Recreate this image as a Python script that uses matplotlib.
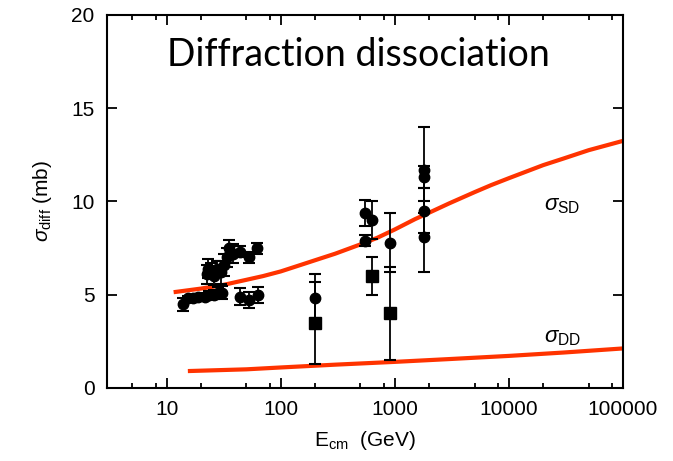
import matplotlib
matplotlib.use("Agg")
from matplotlib import pyplot as plt
from matplotlib.ticker import LogLocator, NullFormatter, FixedLocator

plt.rcParams['font.family'] = ['Liberation Sans', 'DejaVu Sans']
plt.rcParams['mathtext.fontset'] = 'custom'
plt.rcParams['mathtext.rm'] = 'Liberation Sans'
plt.rcParams['mathtext.it'] = 'Liberation Sans:italic'
plt.rcParams['mathtext.sf'] = 'Liberation Sans'

# single diffraction data (circles): energy, cross section, error
sd_e = [13.8, 15.5, 17.0, 19.0, 21.5, 23.5, 26.0, 28.0, 30.5, 44, 53, 63,
        22.5, 23.0, 24.5, 26.0, 27.5, 30.0, 32.0, 34.0, 35.5, 38.0, 44.0, 53.0, 62.0,
        200, 546, 546, 630, 900, 1800, 1800, 1800, 1800]
sd_sig = [4.5, 4.8, 4.85, 4.9, 4.9, 5.0, 5.0, 5.1, 5.1, 4.9, 4.7, 5.0,
          6.1, 6.4, 6.3, 6.0, 6.4, 6.2, 6.6, 7.0, 7.5, 7.2, 7.3, 7.0, 7.5,
          4.8, 9.4, 7.9, 9.0, 7.8, 11.7, 11.3, 9.5, 8.1]
sd_err = [0.35, 0.15, 0.15, 0.15, 0.2, 0.2, 0.25, 0.3, 0.35, 0.45, 0.42, 0.42,
          0.5, 0.5, 0.4, 0.5, 0.4, 0.6, 0.6, 0.5, 0.45, 0.5, 0.3, 0.3, 0.3,
          1.3, 0.7, 0.3, 1.0, 1.6, 2.3, 0.6, 1.2, 1.9]

# double diffraction data (squares)
dd_e = [200, 630, 900]
dd_sig = [3.5, 6.0, 4.0]
dd_err = [2.2, 1.0, 2.5]

# model curves
sd_curve_e = [12, 20, 30, 50, 70, 100, 150, 200, 300, 500, 700, 1000, 1500,
              2000, 3000, 5000, 7000, 10000, 20000, 30000, 50000, 100000]
sd_curve_sig = [5.15, 5.33, 5.5, 5.8, 6.0, 6.25, 6.6, 6.85, 7.2, 7.7, 8.05,
                8.5, 9.05, 9.4, 9.9, 10.5, 10.88, 11.25, 11.95, 12.3, 12.75, 13.25]
dd_curve_e = [16, 50, 100, 300, 1000, 3000, 10000, 30000, 100000]
dd_curve_sig = [0.91, 1.0, 1.1, 1.25, 1.4, 1.55, 1.72, 1.9, 2.12]

red = '#ff3300'

fig = plt.figure(figsize=(6.73, 4.61), dpi=100)
ax = fig.add_axes([0.159, 0.1584, 0.7667, 0.8091])

ax.plot(sd_curve_e, sd_curve_sig, color=red, lw=3, zorder=2, solid_joinstyle='round')
ax.plot(dd_curve_e, dd_curve_sig, color=red, lw=3, zorder=2, solid_joinstyle='round')

ax.errorbar(sd_e, sd_sig, yerr=sd_err, fmt='o', color='black', ms=7.5,
            capsize=4.5, elinewidth=1.3, capthick=1.5, zorder=3)
ax.errorbar(dd_e, dd_sig, yerr=dd_err, fmt='s', color='black', ms=8,
            capsize=4.5, elinewidth=1.3, capthick=1.5, zorder=3)

ax.set_xscale('log')
ax.set_xlim(3, 1e5)
ax.set_ylim(0, 20)
ax.set_yticks([0, 5, 10, 15, 20])
ax.xaxis.set_major_locator(FixedLocator([10, 100, 1000, 10000, 100000]))
ax.set_xticklabels(['10', '100', '1000', '10000', '100000'])
ax.xaxis.set_minor_locator(LogLocator(base=10, subs=(2, 5, 8)))
ax.xaxis.set_minor_formatter(NullFormatter())

ax.tick_params(which='both', direction='in', top=True, right=True,
               labelsize=15, width=1.3, pad=9)
ax.tick_params(which='major', length=7)
ax.tick_params(which='minor', length=3.5)
for s in ax.spines.values():
    s.set_linewidth(1.5)

ax.set_xlabel(r'E$_{\rm cm}$  (GeV)', fontsize=15, labelpad=7)
ax.set_ylabel(r'$\sigma_{\rm diff}$ (mb)', fontsize=15, labelpad=12)

ax.text(0.488, 17.85, 'Diffraction dissociation', transform=ax.get_yaxis_transform(),
        ha='center', va='center', fontsize=27, family='Lato')
ax.text(29500, 9.8, r'$\sigma_{\rm SD}$', ha='center', va='center', fontsize=16)
ax.text(29500, 2.7, r'$\sigma_{\rm DD}$', ha='center', va='center', fontsize=16)

fig.savefig('out.png', dpi=100)
